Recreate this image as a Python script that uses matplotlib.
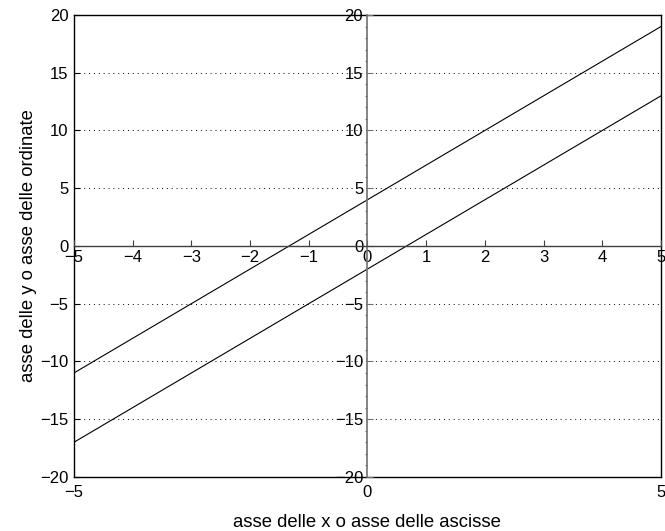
import matplotlib
matplotlib.use("Agg")
import matplotlib.pyplot as plt
import numpy as np

# data: two parallel lines y = 3x + 4 and y = 3x - 2
x_vals = [-5, 5]
retta_a = [-11, 19]
retta_b = [-17, 13]

outer_xticks = [-5, 0, 5]
yticks = list(range(-20, 21, 5))
inner_xticks = list(range(-5, 6))

plt.rcParams["font.family"] = ["Liberation Sans", "DejaVu Sans"]
plt.rcParams["font.size"] = 12

fig = plt.figure(figsize=(6.65, 5.31), dpi=100)
pos = [0.111, 0.1017, 0.883, 0.8701]


def fmt(vals):
    return [f"{v}".replace("-", "\u2212") for v in vals]


# outer box
ax = fig.add_axes(pos)
ax.set_xlim(-5, 5)
ax.set_ylim(-20, 20)
ax.set_xticks(outer_xticks)
ax.set_yticks(yticks)
ax.set_xticklabels(fmt(outer_xticks))
ax.set_yticklabels(fmt(yticks))
ax.tick_params(direction="in", length=4, width=0.8, pad=4)
ax.tick_params(axis="x", length=0, pad=6)
for s in ax.spines.values():
    s.set_linewidth(1.0)
for yv in yticks[1:-1]:
    if yv != 0:
        ax.axhline(yv, color="black", lw=0.7, ls=(0, (1, 4)), zorder=0)
ax.plot(x_vals, retta_a, color="black", lw=0.8)
ax.plot(x_vals, retta_b, color="black", lw=0.8)
ax.set_xlabel("asse delle x o asse delle ascisse", fontsize=13.3, labelpad=10)
ax.set_ylabel("asse delle y o asse delle ordinate", fontsize=13.3, labelpad=2)

# axes through the origin
ax2 = fig.add_axes(pos, facecolor="none")
ax2.set_xlim(-5, 5)
ax2.set_ylim(-20, 20)
ax2.spines["top"].set_visible(False)
ax2.spines["right"].set_visible(False)
ax2.spines["left"].set_position(("data", 0))
ax2.spines["bottom"].set_position(("data", 0))
ax2.spines["left"].set_color("#707070")
ax2.spines["bottom"].set_color("#404040")
ax2.spines["left"].set_linewidth(1.2)
ax2.spines["bottom"].set_linewidth(1.0)
ax2.set_xticks(inner_xticks)
ax2.set_xticklabels(fmt(inner_xticks))
ax2.set_yticks(yticks)
ax2.set_yticklabels(fmt(yticks))
ax2.set_yticks(np.arange(-20, 21, 1), minor=True)
ax2.tick_params(axis="x", direction="in", length=4, width=0.8, pad=3, color="#404040")
ax2.tick_params(axis="y", which="major", direction="in", length=4, width=0.8, pad=3, color="#707070")
ax2.tick_params(axis="y", which="minor", direction="out", length=1.5, width=0.8, color="#707070")

fig.savefig("out.png", dpi=100)
